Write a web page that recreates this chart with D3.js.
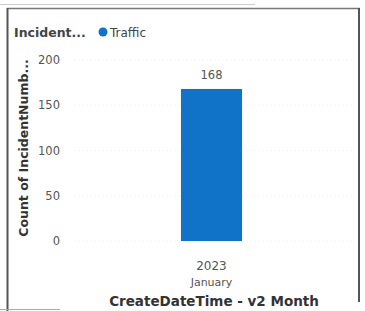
<!DOCTYPE html>
<html>
<head>
<meta charset="utf-8">
<script src="https://cdn.jsdelivr.net/npm/d3@7"></script>
<style>
  body { margin: 0; background: #fff; }
  svg { display: block; font-family: "DejaVu Sans", sans-serif; }
</style>
</head>
<body>
<script>
// chart data
const categories = ["2023|January"];
const values = [168];
const seriesName = "Traffic";
const yTicks = [0, 50, 100, 150, 200];

const width = 365, height = 311;
const svg = d3.select("body").append("svg")
    .attr("width", width)
    .attr("height", height);

// frame around the visual
svg.append("line").attr("x1", 0).attr("x2", 255).attr("y1", 4.5).attr("y2", 4.5)
    .attr("stroke", "#ccc").attr("stroke-width", 1);
svg.append("line").attr("x1", 7).attr("x2", 360).attr("y1", 8.5).attr("y2", 8.5)
    .attr("stroke", "#777").attr("stroke-width", 1.5);
svg.append("line").attr("x1", 7.5).attr("x2", 7.5).attr("y1", 8).attr("y2", 311)
    .attr("stroke", "#555").attr("stroke-width", 2);
svg.append("line").attr("x1", 359).attr("x2", 359).attr("y1", 8).attr("y2", 302)
    .attr("stroke", "#555").attr("stroke-width", 2);
svg.append("line").attr("x1", 0).attr("x2", 60).attr("y1", 309.5).attr("y2", 309.5)
    .attr("stroke", "#aaa").attr("stroke-width", 1);

const y = d3.scaleLinear().domain([0, 200]).range([241, 60]);
const x = d3.scaleBand().domain(categories).range([65, 358]).padding(0.655);

// faint gridlines
svg.append("g").selectAll("line")
    .data(yTicks)
    .enter().append("line")
    .attr("x1", 75).attr("x2", 355)
    .attr("y1", d => y(d)).attr("y2", d => y(d))
    .attr("stroke", "#f0f0f0").attr("stroke-dasharray", "1,3");

// y axis labels
const yAxis = svg.append("g")
    .attr("transform", "translate(60,0)")
    .call(d3.axisLeft(y).tickValues(yTicks).tickSize(0).tickPadding(0));
yAxis.select(".domain").remove();
yAxis.selectAll("text")
    .attr("fill", "#555")
    .style("font-size", "11.5px")
    .style("font-family", "DejaVu Sans");

// bars
svg.selectAll(".bar")
    .data(values)
    .enter().append("rect")
    .attr("class", "bar")
    .attr("x", (d, i) => x(categories[i]))
    .attr("width", x.bandwidth())
    .attr("y", d => y(d))
    .attr("height", d => y(0) - y(d))
    .attr("fill", "#1173c8");

// data labels
svg.selectAll(".lbl")
    .data(values)
    .enter().append("text")
    .attr("x", (d, i) => x(categories[i]) + x.bandwidth() / 2)
    .attr("y", d => y(d) - 10)
    .attr("text-anchor", "middle")
    .attr("fill", "#555")
    .style("font-size", "11.5px")
    .text(d => d);

// x axis category labels (two lines)
categories.forEach(c => {
    const parts = c.split("|");
    const cx = x(c) + x.bandwidth() / 2;
    svg.append("text").attr("x", cx).attr("y", 270)
        .attr("text-anchor", "middle").attr("fill", "#555")
        .style("font-size", "12px").text(parts[0]);
    svg.append("text").attr("x", cx).attr("y", 286)
        .attr("text-anchor", "middle").attr("fill", "#555")
        .style("font-size", "11px").text(parts[1]);
});

// axis titles
svg.append("text")
    .attr("x", 214).attr("y", 306)
    .attr("text-anchor", "middle")
    .attr("fill", "#333")
    .style("font-size", "13.5px").style("font-weight", "bold")
    .text("CreateDateTime - v2 Month");

svg.append("text")
    .attr("transform", "translate(28,148) rotate(-90)")
    .attr("text-anchor", "middle")
    .attr("fill", "#333")
    .style("font-size", "12.5px").style("font-weight", "bold")
    .text("Count of IncidentNumb...");

// legend
svg.append("text")
    .attr("x", 14).attr("y", 37)
    .attr("fill", "#444")
    .style("font-size", "12.5px").style("font-weight", "bold")
    .text("Incident...");
svg.append("circle").attr("cx", 103).attr("cy", 32).attr("r", 4.5).attr("fill", "#1173c8");
svg.append("text")
    .attr("x", 110).attr("y", 37)
    .attr("fill", "#444")
    .style("font-size", "12px")
    .text(seriesName);
</script>
</body>
</html>
